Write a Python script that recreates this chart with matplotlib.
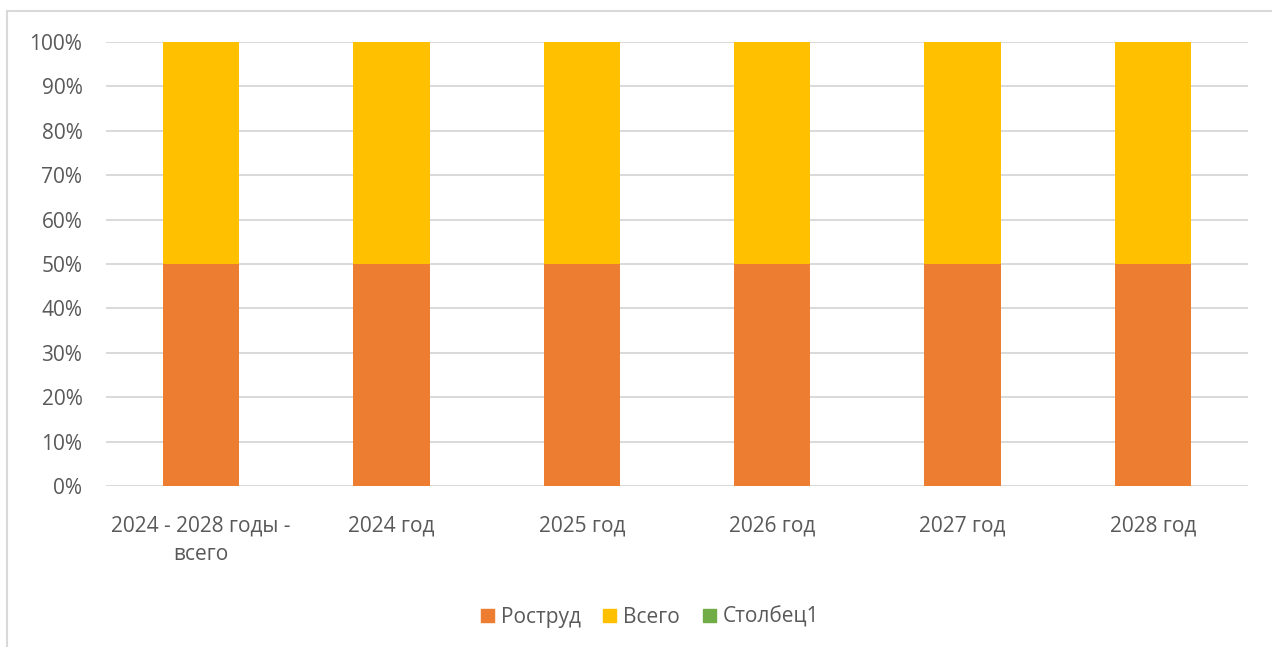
import numpy as np
import matplotlib.pyplot as plt
from matplotlib.patches import Rectangle, Patch
from matplotlib.ticker import PercentFormatter

categories = ["2024 - 2028 годы -\nвсего", "2024 год", "2025 год", "2026 год", "2027 год", "2028 год"]
rostrud = [50, 50, 50, 50, 50, 50]
vsego = [50, 50, 50, 50, 50, 50]
stolbec1 = [0, 0, 0, 0, 0, 0]
series_names = ["Роструд", "Всего", "Столбец1"]
colors = ["#ED7D31", "#FFC000", "#70AD47"]

plt.rcParams['font.family'] = ['Open Sans', 'DejaVu Sans']
txt = "#595959"
fs = 15

fig = plt.figure(figsize=(12.72, 6.47), dpi=100)
ax = fig.add_axes([106/1272, 1-486/647, 1142/1272, 444/647])

x = np.arange(len(categories))
tot = np.array(rostrud) + np.array(vsego) + np.array(stolbec1)
r = np.array(rostrud) / tot * 100
v = np.array(vsego) / tot * 100
s = np.array(stolbec1) / tot * 100
ax.bar(x, r, width=0.4, color=colors[0], zorder=3)
ax.bar(x, v, width=0.4, bottom=r, color=colors[1], zorder=3)
ax.bar(x, s, width=0.4, bottom=r+v, color=colors[2], zorder=3)

ax.set_xlim(-0.5, len(categories)-0.5)
ax.set_ylim(0, 100)
ax.set_yticks(np.arange(0, 101, 10))
ax.yaxis.set_major_formatter(PercentFormatter(decimals=0))
ax.grid(axis='y', color='#d9d9d9', linewidth=1.4, zorder=0)
for sp in ax.spines.values():
    sp.set_visible(False)
ax.tick_params(length=0, labelsize=fs, colors=txt)
ax.tick_params(axis='y', pad=17)
ax.tick_params(axis='x', pad=21)
ax.set_xticks(x)
ax.set_xticklabels(categories, linespacing=1.5)

handles = [Patch(color=c) for c in colors]
fig.legend(handles, series_names, loc='center', bbox_to_anchor=(650/1272, 1-617/647),
           ncol=3, frameon=False, fontsize=fs, labelcolor=txt, handlelength=0.62,
           handleheight=0.62, handletextpad=0.33, columnspacing=1.1)

fig.patches.append(Rectangle((7/1272, -0.1), 1.2, 1-11/647+0.1, transform=fig.transFigure,
                             fill=False, edgecolor='#d9d9d9', linewidth=1.5))

fig.savefig("out.png", dpi=100)
